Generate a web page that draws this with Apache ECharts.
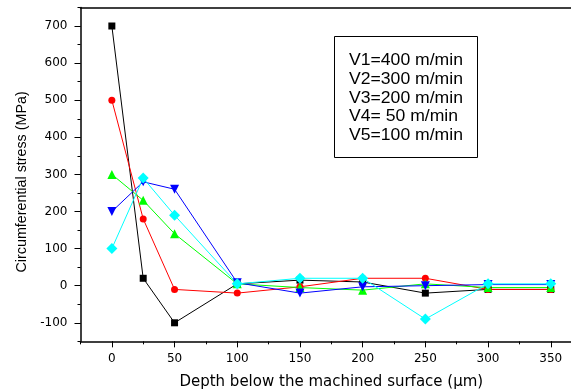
<!DOCTYPE html>
<html>
<head>
<meta charset="utf-8">
<script src="https://cdn.jsdelivr.net/npm/echarts@6/dist/echarts.min.js"></script>
<style>html,body{margin:0;padding:0;background:#fff}#c{width:571px;height:392px}</style>
</head>
<body>
<div id="c"></div>
<script>
const depths = [0, 25, 50, 100, 150, 200, 250, 300, 350];
const v1 = [700, 20, -100, 5, 15, 10, -20, -10, -10];
const v2 = [500, 180, -10, -20, -3, 20, 20, -10, -10];
const v3 = [300, 230, 140, 5, -5, -12, 5, -5, -5];
const v4 = [200, 280, 260, 8, -20, -3, 0, 3, 3];
const v5 = [100, 290, 190, 5, 20, 20, -90, 5, 5];
const seriesNames = ['V1=400 m/min', 'V2=300 m/min', 'V3=200 m/min', 'V4= 50 m/min', 'V5=100 m/min'];
const xTitle = 'Depth below the machined surface (\u03bcm)';
const yTitle = 'Circumferential stress (MPa)';

const chart = echarts.init(document.getElementById('c'));
const pairs = arr => depths.map((d, i) => [d, arr[i]]);
const axisCol = '#000';
const tickFont = {fontFamily: 'DejaVu Sans', fontSize: 12, color: '#000'};

function mk(name, data, color, symbol, size, rot) {
  return {
    name, type: 'line', xAxisIndex: 0, yAxisIndex: 0,
    data: pairs(data), symbol, symbolSize: size, symbolRotate: rot || 0,
    lineStyle: {color, width: 1}, itemStyle: {color},
    animation: false
  };
}

const legendLines = seriesNames.map((t, i) => ({
  type: 'text', x: 349, y: 60.7 + i * 18.7, scaleX: 1.1,
  style: {text: t, font: '16px "Liberation Sans"', fill: '#000', verticalAlign: 'middle', textVerticalAlign: 'middle'}
}));

const gridBase = {outerBoundsMode: 'none', containLabel: false};

chart.setOption({
  animation: false,
  grid: [
    Object.assign({left: 80.5, top: 7.45, width: 501.6, height: 333.9}, gridBase),
    Object.assign({left: 111.85, top: 7.45, width: 438.9, height: 333.9}, gridBase),
    Object.assign({left: 80.5, top: 26.0, width: 501.6, height: 296.8}, gridBase)
  ],
  xAxis: [
    {gridIndex: 0, type: 'value', min: -25, max: 375, interval: 25, position: 'bottom',
     axisLine: {show: true, onZero: false, lineStyle: {color: axisCol, width: 1.5}},
     axisTick: {show: true, length: 3, lineStyle: {color: axisCol}},
     axisLabel: {show: false}, splitLine: {show: false},
     name: xTitle, nameLocation: 'middle', nameGap: 33,
     nameTextStyle: {fontFamily: 'DejaVu Sans', fontSize: 15, color: '#000'}},
    {gridIndex: 0, type: 'value', min: -25, max: 375, position: 'top',
     axisLine: {show: true, onZero: false, lineStyle: {color: axisCol, width: 1.5}},
     axisTick: {show: false}, axisLabel: {show: false}, splitLine: {show: false}},
    {gridIndex: 1, type: 'value', min: 0, max: 350, interval: 50, position: 'bottom',
     axisLine: {show: false, onZero: false},
     axisTick: {show: true, length: 6, lineStyle: {color: axisCol}},
     axisLabel: Object.assign({show: true, margin: 12}, tickFont), splitLine: {show: false}},
    {gridIndex: 2, type: 'value', show: false, min: -25, max: 375}
  ],
  yAxis: [
    {gridIndex: 0, type: 'value', min: -150, max: 750, interval: 50,
     axisLine: {show: true, onZero: false, lineStyle: {color: axisCol, width: 1.5}},
     axisTick: {show: true, length: 3, lineStyle: {color: axisCol}},
     axisLabel: {show: false}, splitLine: {show: false},
     name: yTitle, nameLocation: 'middle', nameGap: 51,
     nameTextStyle: {fontFamily: 'Liberation Sans', fontSize: 14.3, color: '#000', padding: [0, 15, 0, 0]}},
    {gridIndex: 1, type: 'value', show: false, min: -150, max: 750},
    {gridIndex: 2, type: 'value', min: -100, max: 700, interval: 100,
     axisLine: {show: false, onZero: false},
     axisTick: {show: true, length: 6, lineStyle: {color: axisCol}},
     axisLabel: Object.assign({show: true, margin: 13}, tickFont), splitLine: {show: false}}
  ],
  series: [
    mk(seriesNames[0], v1, '#000000', 'rect', 7),
    mk(seriesNames[1], v2, '#ff0000', 'circle', 7),
    mk(seriesNames[2], v3, '#00ff00', 'triangle', 9),
    mk(seriesNames[3], v4, '#0000ff', 'triangle', 9, 180),
    mk(seriesNames[4], v5, '#00ffff', 'diamond', 11)
  ],
  graphic: [
    {type: 'rect', shape: {x: 334.5, y: 36.5, width: 143, height: 121},
     style: {fill: '#fff', stroke: '#000', lineWidth: 1}},
    ...legendLines
  ]
});
</script>
</body>
</html>
